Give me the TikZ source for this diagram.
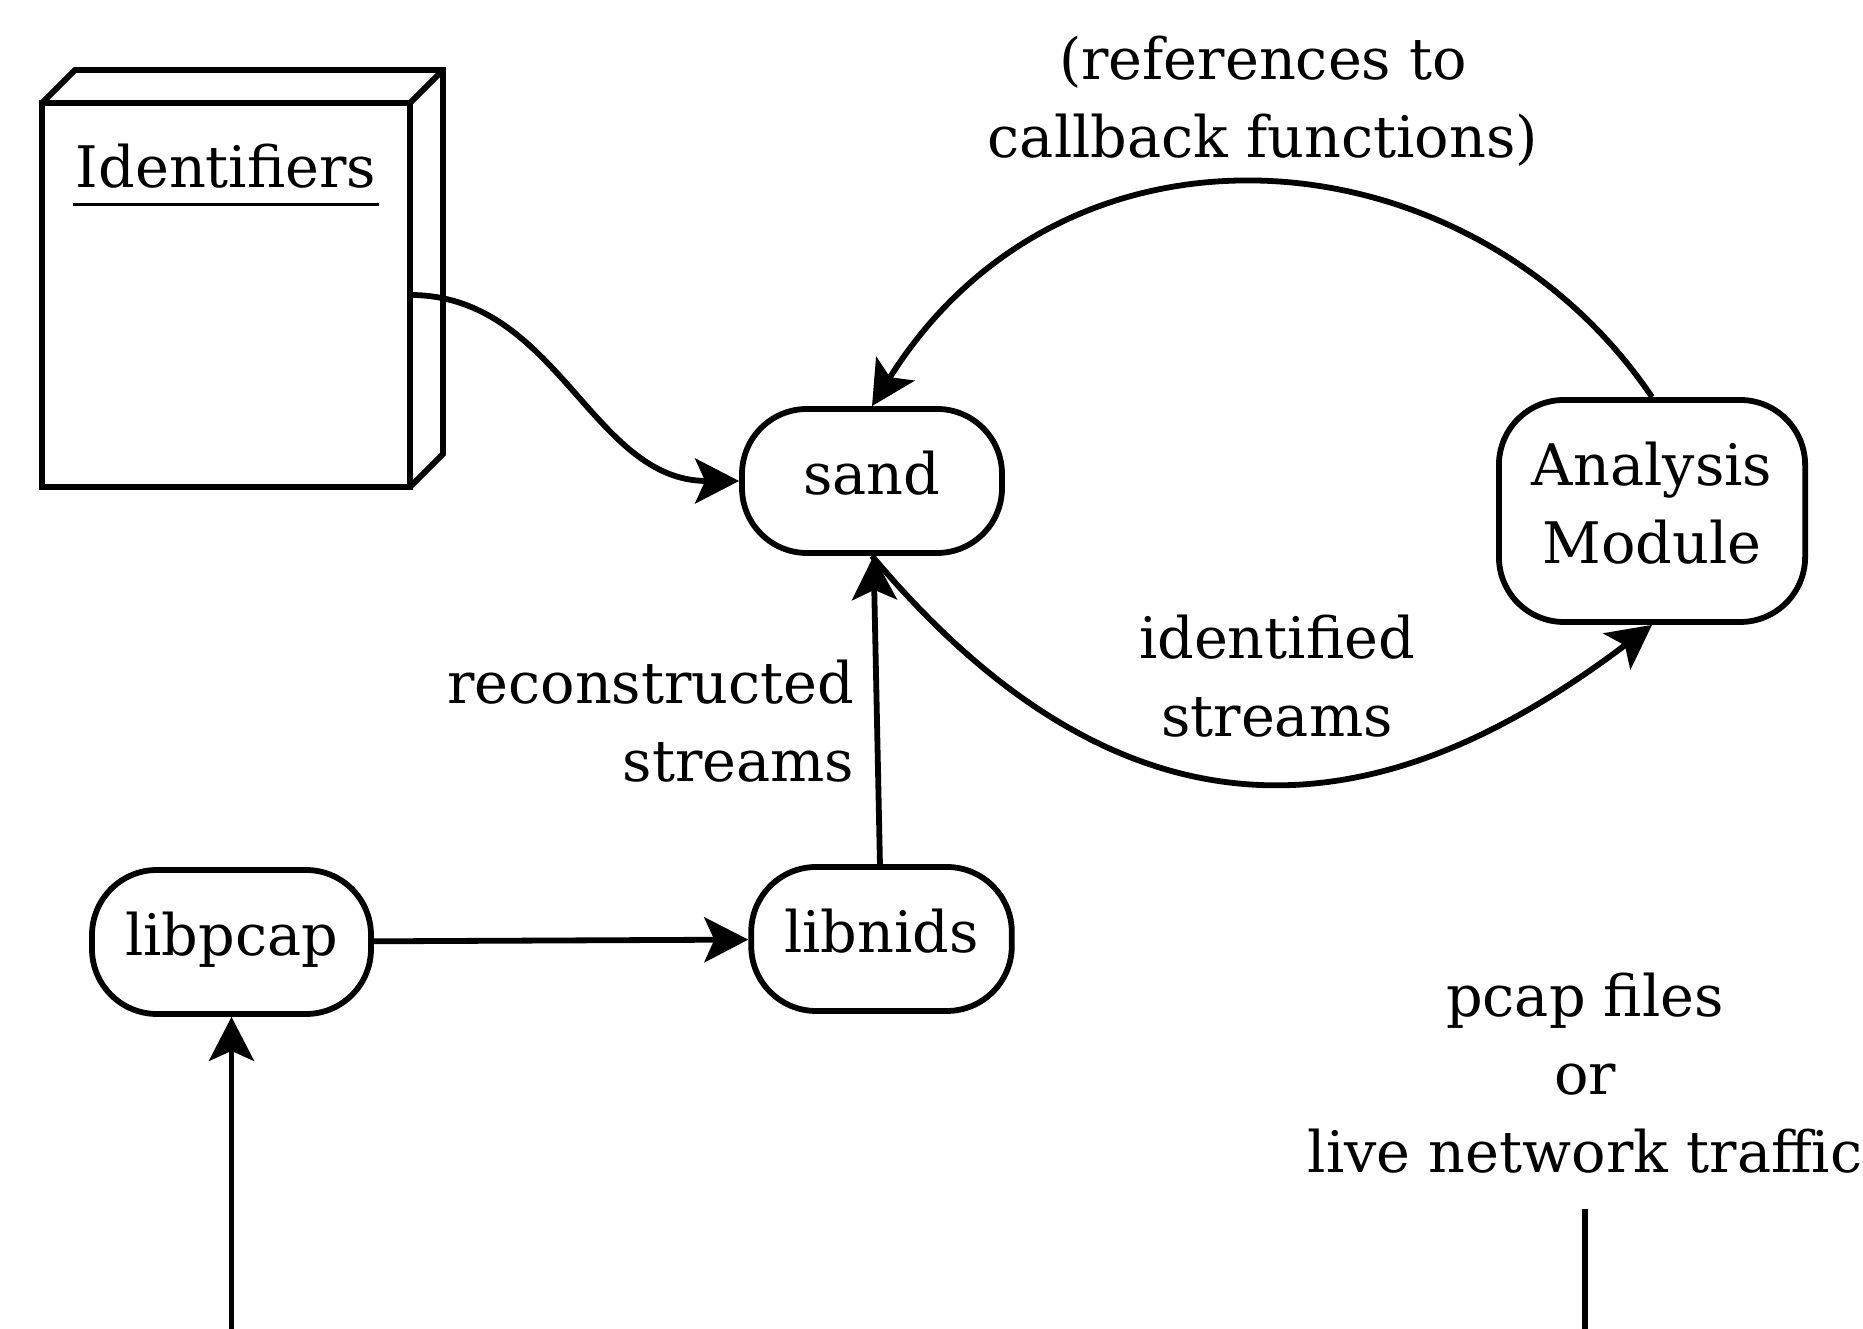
\documentclass[tikz,border=0pt]{standalone}
\usepackage{fontspec}
\setmainfont{DejaVu Serif}
\usetikzlibrary{arrows.meta,positioning}

\newcommand\diagramLine{1.65pt}
\newcommand\boxDepth{0.33}
\newcommand\boxWidth{3.68}
\newcommand\boxHeight{3.84}

\tikzset{
	every node/.style={font=\fontsize{16.3}{22.2}\selectfont},
	component/.style={draw, line width=\diagramLine, rounded corners=0.65cm,
		minimum width=2.6cm, minimum height=1.44cm, inner xsep=0.33cm,
		text height=0.38cm, text depth=0.1cm},
	annot/.style={inner sep=0pt, align=center},
	flow/.style={line width=\diagramLine, -{Stealth[length=0.44cm, width=0.45cm, inset=0.1cm]}},
}

\begin{document}
\begin{tikzpicture}
	\clip (0,0) rectangle (18.63,13.29);

	% uml node with the identifiers
	\node[draw, line width=\diagramLine, outer sep=0pt, minimum width=\boxWidth cm, minimum height=\boxHeight cm] (ident) at (2.26,10.34) {};
	\draw[line width=\diagramLine] (ident.north west) -- ++(\boxDepth,\boxDepth) -- ++(\boxWidth,0) -- ++(0,-\boxHeight) -- (ident.south east);
	\draw[line width=\diagramLine] (ident.north east) -- ++(\boxDepth,\boxDepth);
	\node[anchor=base, inner xsep=0.02cm, inner ysep=0.15cm] (identtitle) at ([yshift=-0.85cm]ident.north) {Identifiers};
	\draw[line width=0.8pt] (identtitle.south west) -- (identtitle.south east);

	% components
	\node[component] (sand) at (8.72,8.48) {sand};
	\node[component, minimum width=3.04cm, minimum height=2.22cm, align=center, text height=1.16cm] (analysis) at (16.52,8.18) {Analysis\\Module};
	\node[component, minimum width=2.79cm] (libpcap) at (2.315,3.87) {libpcap};
	\node[component] (libnids) at (8.815,3.90) {libnids};

	% edge texts (base = last line)
	\node[annot, anchor=base] (callbacks) at (12.63,11.71) {(references to\\callback functions)};
	\node[annot, anchor=base east, align=right] (reconstructed) at (8.55,5.47) {reconstructed\\streams};
	\node[annot, anchor=base] (identified) at (12.77,5.92) {identified\\streams};
	\node[annot, anchor=base, inner ysep=0.34cm] (traffic) at (15.85,1.56) {pcap files\\or\\live network traffic};

	\coordinate (capture) at (2.315,-0.5);
	\coordinate (feed) at (15.85,-0.5);

	% data flow
	\draw[flow] (ident.east) to[out=0, in=180] (sand.west);
	\draw[flow] (libpcap) -- (libnids);
	\draw[flow] (libnids) -- (sand);
	\draw[flow] (sand.south) to[out=-50, in=-143, out distance=4.5cm, in distance=2.8cm] (analysis.south);
	\draw[flow] (analysis.north) to[out=124, in=58, out distance=3.2cm, in distance=3.7cm] (sand.north);
	\draw[flow] (capture) -- (libpcap);
	\draw[line width=\diagramLine] (traffic.south) -- (feed);
\end{tikzpicture}
\end{document}
